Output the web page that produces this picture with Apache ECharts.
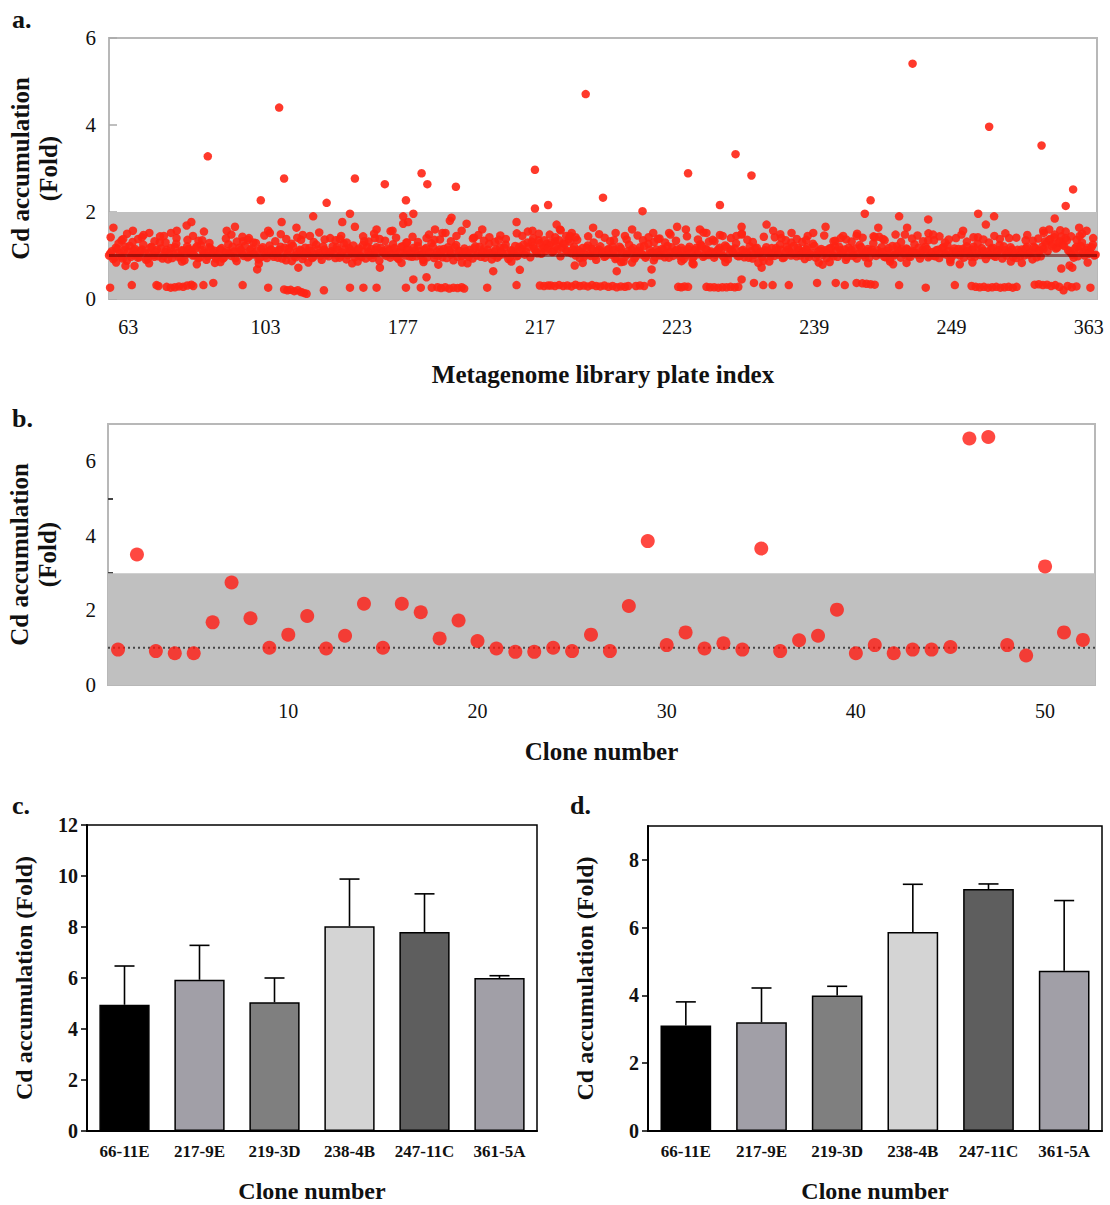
<!DOCTYPE html>
<html><head><meta charset="utf-8">
<script src="https://cdn.jsdelivr.net/npm/echarts@6/dist/echarts.min.js"></script>
<style>html,body{margin:0;padding:0;background:#fff}#c{width:1110px;height:1205px}</style>
</head><body><div id="c"></div>
<script>
const FONT = '"Liberation Serif","Times New Roman",serif';

// ---------- Panel a : plate screening ----------
const plateLabels = ['63','103','177','217','223','239','249','363'];
const plateCount = 36;
// main band: 10 readings per plate (plate order)
const aBand = [
1.05,0.92,1.18,1.28,0.98,1.12,0.88,1.22,1.02,1.15,
0.95,1.10,1.25,0.90,1.05,1.20,0.97,1.13,1.30,0.93,
1.08,0.91,1.17,1.03,1.27,0.96,1.12,0.89,1.21,1.06,
1.00,1.16,0.94,1.24,1.07,0.90,1.19,1.02,1.11,0.97,
1.14,0.93,1.06,1.26,0.99,1.09,0.87,1.18,1.04,1.22,
0.96,1.12,1.03,1.29,0.91,1.15,1.07,0.94,1.23,1.01,
1.10,0.95,1.20,1.05,0.89,1.16,1.27,0.98,1.08,1.13,
0.92,1.18,1.04,1.11,0.97,1.25,1.06,0.90,1.14,1.02,
1.07,1.21,0.94,1.13,1.00,1.28,0.91,1.17,1.05,0.96,
1.12,0.99,1.24,0.93,1.08,1.15,1.02,1.19,0.88,1.10,
1.03,1.16,0.95,1.26,1.09,0.92,1.20,1.05,1.13,0.98,
0.97,1.11,1.22,1.01,0.90,1.17,1.06,1.28,0.94,1.09,
1.14,0.96,1.07,1.19,1.02,0.89,1.24,1.11,0.99,1.16,
1.01,1.13,0.93,1.21,1.06,0.97,1.15,1.04,1.27,0.91,
1.09,0.95,1.18,1.03,1.25,0.92,1.12,1.07,0.98,1.20,
1.15,1.02,1.30,0.96,1.22,1.10,1.35,1.04,1.18,1.27,
1.24,1.08,1.33,1.15,0.98,1.28,1.12,1.38,1.05,1.20,
1.06,0.94,1.17,1.02,1.23,0.99,1.11,0.90,1.14,1.04,
0.97,1.12,1.05,1.20,0.92,1.09,1.16,0.86,1.03,1.25,
1.13,0.93,1.08,1.19,1.01,0.95,1.27,1.06,0.89,1.14,
1.02,1.15,0.96,1.22,1.08,0.99,1.11,1.04,1.18,0.92,
1.07,1.20,0.94,1.12,1.03,1.26,0.97,1.15,1.01,1.09,
0.95,1.10,1.18,1.00,1.23,0.91,1.14,1.06,1.28,0.98,
1.11,0.96,1.05,1.21,0.93,1.16,1.02,1.09,0.88,1.19,
1.04,1.17,0.99,1.12,1.25,0.94,1.07,1.14,1.00,1.22,
0.98,1.13,1.06,0.92,1.19,1.03,1.27,0.95,1.10,1.15,
1.08,0.94,1.16,1.02,1.21,0.97,1.12,1.05,0.90,1.18,
1.13,1.01,0.93,1.24,1.07,0.96,1.15,1.10,1.28,0.99,
1.05,1.19,0.97,1.11,0.91,1.22,1.03,1.14,0.95,1.08,
1.16,0.98,1.09,1.26,1.02,0.93,1.13,1.20,0.96,1.06,
1.00,1.12,0.94,1.17,1.05,1.23,0.90,1.10,1.03,1.15,
1.09,0.95,1.21,1.04,1.14,0.97,1.27,1.01,1.11,0.92,
1.03,1.16,0.99,1.08,1.24,0.93,1.12,1.06,1.19,0.96,
0.94,1.07,1.14,1.00,1.20,1.05,0.91,1.17,1.10,0.98,
1.15,1.28,1.36,1.22,1.42,1.18,1.33,1.25,1.40,1.12,
1.06,0.95,1.20,1.12,1.30,1.00,1.18,1.08,1.25,1.02
];
// band core: a further 10 readings per plate (plate order)
const aCore = [
1.00,1.10,0.95,1.15,1.05,0.93,1.20,1.08,0.97,1.12,
1.03,0.96,1.14,1.07,0.92,1.18,1.01,1.09,0.98,1.16,
0.99,1.13,1.04,0.94,1.19,1.06,0.97,1.11,1.02,1.15,
1.09,1.01,1.21,0.95,1.12,1.04,0.98,1.16,1.07,0.93,
1.02,1.17,0.96,1.10,1.05,1.20,0.94,1.08,1.13,0.99,
1.06,0.98,1.16,1.03,1.11,0.95,1.19,1.00,1.09,1.14,
0.97,1.05,1.13,0.93,1.18,1.02,1.09,1.22,0.96,1.04,
1.11,1.00,1.07,1.17,0.94,1.03,1.14,0.99,1.21,1.08,
0.98,1.10,1.03,1.19,0.95,1.07,1.15,1.01,1.12,1.23,
1.04,1.16,0.97,1.08,1.20,1.00,0.94,1.13,1.06,1.18,
1.09,0.99,1.12,1.02,1.17,0.95,1.07,1.21,1.00,1.14,
1.05,1.18,0.98,1.10,1.03,1.14,0.96,1.08,1.20,1.01,
0.99,1.08,1.15,0.94,1.12,1.05,1.19,0.97,1.10,1.03,
1.10,0.97,1.05,1.16,1.00,1.20,1.08,0.95,1.13,1.06,
1.02,1.14,0.99,1.08,1.18,1.04,0.96,1.11,1.22,1.00,
1.12,1.25,1.08,1.20,1.32,1.15,1.05,1.28,1.18,1.10,
1.16,1.30,1.10,1.22,1.35,1.18,1.26,1.08,1.32,1.14,
1.00,1.12,1.07,0.96,1.18,1.03,1.15,0.99,1.09,1.21,
1.07,0.99,1.15,1.02,1.12,0.95,1.20,1.06,0.97,1.10,
1.03,1.17,0.98,1.11,1.05,1.22,1.00,1.13,1.07,0.96,
1.08,1.00,1.13,1.04,0.95,1.19,1.06,1.14,0.98,1.11,
1.01,1.15,1.05,0.97,1.18,1.09,1.22,1.00,1.12,1.04,
1.06,1.02,1.14,1.08,0.96,1.19,1.03,1.11,1.16,0.99,
1.00,1.13,1.07,0.95,1.10,1.02,1.18,1.05,0.97,1.12,
1.10,0.98,1.06,1.17,1.02,1.13,0.96,1.20,1.08,1.04,
1.04,1.18,1.00,1.09,1.14,0.97,1.06,1.22,1.02,1.11,
1.01,1.12,1.05,1.17,0.98,1.09,1.20,1.03,1.14,0.96,
1.07,0.99,1.16,1.04,1.19,1.01,1.10,0.95,1.13,1.06,
1.12,1.03,1.08,0.96,1.17,1.05,1.00,1.21,1.09,1.14,
1.02,1.14,0.97,1.10,1.06,1.18,1.01,1.08,1.15,0.99,
1.08,0.98,1.13,1.05,1.19,1.02,1.10,0.96,1.16,1.07,
1.00,1.15,1.06,1.11,0.97,1.20,1.04,1.09,1.17,1.02,
1.09,1.01,1.18,0.97,1.12,1.05,1.21,1.00,1.08,1.14,
1.03,1.13,0.99,1.09,1.16,1.02,1.07,1.20,0.96,1.11,
1.20,1.32,1.10,1.38,1.25,1.16,1.30,1.44,1.22,1.35,
1.10,1.02,1.16,0.98,1.22,1.07,1.13,1.04,1.19,1.00
];
// band fringe: 5 readings per plate at the band edges (plate order)
const aFringe = [
1.42,0.84,1.35,1.50,1.31, 1.38,1.47,0.82,1.33,1.44, 1.30,1.52,1.40,0.86,1.36, 1.45,1.34,1.55,1.29,0.83,
0.85,1.39,1.48,1.32,1.43, 1.36,1.30,0.81,1.46,1.52, 1.33,1.49,1.38,0.87,1.41, 1.47,0.84,1.31,1.53,1.37,
1.40,1.35,1.45,1.30,0.82, 0.86,1.44,1.32,1.50,1.38, 1.34,1.56,1.41,0.83,1.30, 1.43,1.31,0.85,1.48,1.36,
1.37,1.52,1.33,1.45,0.84, 0.82,1.39,1.47,1.34,1.42, 1.31,1.46,1.38,0.86,1.51, 1.45,1.55,1.40,1.50,1.35,
1.48,1.42,1.58,1.45,1.52, 1.36,0.83,1.44,1.30,1.49, 1.41,1.33,1.52,0.85,1.37, 0.84,1.46,1.35,1.42,1.31,
1.39,1.30,1.48,1.34,0.87, 1.44,0.82,1.37,1.53,1.32, 1.33,1.47,0.85,1.40,1.45, 1.50,1.36,1.31,0.83,1.43,
0.86,1.42,1.49,1.35,1.30, 1.38,1.31,1.45,1.52,0.84, 1.46,0.85,1.34,1.40,1.37, 1.32,1.50,1.41,0.82,1.44,
1.43,1.35,0.86,1.48,1.31, 0.83,1.39,1.46,1.33,1.51, 1.35,1.44,1.30,0.85,1.40, 1.48,1.32,0.84,1.42,1.37,
1.30,1.45,1.38,1.51,0.86, 1.41,0.83,1.47,1.34,1.39, 1.52,1.60,1.48,1.58,1.55, 1.44,1.36,1.50,0.84,1.40
];
// readings outside the main band: [plate position, fold]
const aSpread = [
[0.16,1.64],[0.52,1.38],[0.87,1.57],[1.2,1.42],[1.47,1.52],[2.0,1.45],[2.47,1.57],[2.83,1.69],[3.0,1.77],[3.4,1.35],
[3.6,3.28],[4.29,1.57],[4.59,1.66],[4.89,1.33],[5.1,1.4],[5.53,2.27],[5.8,1.57],[6.2,4.40],[6.29,1.77],[6.38,2.77],
[6.83,1.64],[7.0,1.36],[7.32,1.45],[7.44,1.9],[7.93,2.21],[8.41,1.38],[8.5,1.77],[8.78,1.96],[8.96,2.77],[8.96,1.66],
[9.3,1.33],[9.69,1.4],[9.75,1.6],[10.05,2.64],[10.33,1.57],[10.72,1.9],[10.72,1.73],[10.82,2.27],[10.84,1.3],[10.9,1.77],
[11.09,1.96],[11.39,2.89],[11.57,1.4],[11.6,2.64],[11.88,1.6],[12.15,1.52],[12.42,1.80],[12.48,1.87],[12.64,2.58],[12.85,1.57],
[13.03,1.73],[13.3,1.41],[13.6,1.6],[14.2,1.36],[14.85,1.77],[15.43,1.57],[15.52,2.97],[15.52,2.08],[16.0,2.16],[16.31,1.71],
[16.43,1.6],[16.8,1.45],[17.0,1.42],[17.37,4.71],[17.64,1.64],[18.0,2.33],[18.4,1.35],[18.8,1.45],[19.06,1.6],[19.44,2.02],
[19.83,1.52],[20.0,1.38],[20.41,1.52],[20.7,1.66],[21.02,1.6],[21.1,2.89],[21.53,1.6],[21.77,1.52],[22.0,1.36],[22.26,2.16],
[22.36,1.45],[22.83,3.33],[23.05,1.66],[23.05,1.48],[23.41,2.84],[23.96,1.71],[24.2,1.57],[24.5,1.4],[24.87,1.52],[25.4,1.36],
[26.11,1.66],[26.4,1.33],[26.75,1.45],[27.24,1.45],[27.54,1.96],[27.75,2.27],[27.9,1.42],[28.03,1.64],[28.2,1.38],[28.79,1.9],
[29.0,1.48],[29.08,1.64],[29.28,5.41],[29.85,1.83],[29.85,1.35],[30.03,1.48],[30.6,1.37],[31.12,1.57],[31.5,1.42],[31.67,1.96],
[31.95,1.71],[32.07,3.96],[32.25,1.9],[32.8,1.4],[33.4,1.35],[33.98,3.53],[34.04,1.57],[34.46,1.85],[34.86,2.14],[35.13,2.52],
[35.35,1.64],[35.37,1.45],[35.62,1.57],
[0.6,0.76],[0.93,0.76],[3.2,0.8],[5.4,0.68],[6.9,0.72],[9.87,0.72],[12.0,0.79],[14.0,0.64],[14.97,0.67],[16.97,0.77],
[18.5,0.64],[19.77,0.68],[21.3,0.8],[23.78,0.72],[26.0,0.79],[28.57,0.8],[31.0,0.8],[34.7,0.7],[35.0,0.77],[35.1,0.72]
];
// low-accumulation cluster: [plate position, fold]
const aLow = [
[0.04,0.26],[0.83,0.32],[1.73,0.32],[1.8,0.3],[2.1,0.28],[2.25,0.26],[2.4,0.27],[2.55,0.29],[2.7,0.28],[2.85,0.31],
[3.0,0.33],[3.07,0.3],[3.44,0.32],[3.8,0.37],[4.87,0.32],[5.8,0.26],[6.38,0.22],[6.5,0.2],[6.62,0.21],[6.75,0.18],
[6.88,0.2],[7.0,0.16],[7.1,0.14],[7.2,0.12],[7.83,0.2],[8.78,0.26],[9.27,0.26],[9.75,0.26],[10.82,0.26],[11.09,0.45],
[11.57,0.5],[11.36,0.26],[11.76,0.26],[11.97,0.27],[12.1,0.25],[12.25,0.27],[12.4,0.24],[12.55,0.26],[12.7,0.25],[12.85,0.27],
[12.94,0.24],[13.78,0.26],[14.85,0.32],[15.7,0.31],[15.85,0.3],[16.0,0.31],[16.1,0.31],[16.25,0.3],[16.4,0.32],[16.55,0.3],
[16.7,0.31],[16.85,0.29],[17.0,0.33],[17.15,0.3],[17.3,0.31],[17.45,0.29],[17.6,0.32],[17.75,0.3],[17.9,0.29],[18.05,0.31],
[18.2,0.28],[18.35,0.3],[18.5,0.27],[18.65,0.29],[18.8,0.28],[18.92,0.3],[19.2,0.3],[19.35,0.31],[19.5,0.3],[19.77,0.37],
[20.74,0.28],[20.85,0.27],[20.97,0.29],[21.1,0.28],[21.77,0.28],[21.9,0.27],[22.05,0.27],[22.2,0.26],[22.35,0.27],[22.5,0.27],
[22.65,0.28],[22.8,0.27],[22.93,0.28],[23.05,0.45],[23.5,0.37],[23.84,0.32],[24.18,0.32],[24.77,0.32],[25.8,0.37],[26.48,0.37],
[26.81,0.32],[27.24,0.37],[27.45,0.36],[27.6,0.35],[27.75,0.34],[27.9,0.33],[28.79,0.32],[29.76,0.26],[30.82,0.32],[31.43,0.3],
[31.58,0.28],[31.73,0.27],[31.88,0.28],[32.03,0.26],[32.18,0.27],[32.33,0.28],[32.48,0.26],[32.63,0.27],[32.78,0.28],[32.93,0.26],
[33.07,0.28],[33.73,0.33],[33.88,0.34],[34.03,0.32],[34.18,0.33],[34.33,0.3],[34.48,0.32],[34.63,0.28],[34.78,0.2],[34.93,0.3],
[35.08,0.27],[35.25,0.29],[35.76,0.26]
];

// ---------- Panel b : 52 selected clones ----------
const bValues = [
0.95,3.50,0.91,0.85,0.85,1.68,2.75,1.79,1.00,1.35,1.85,0.98,1.32,2.18,1.00,2.18,1.95,1.25,1.73,1.18,0.98,0.89,0.89,1.00,
0.91,1.35,0.91,2.12,3.86,1.07,1.41,0.98,1.12,0.95,3.66,0.91,1.20,1.32,2.02,0.85,1.07,0.85,0.95,0.95,1.02,6.61,6.65,1.07,
0.79,3.18,1.41,1.21
];
const bLabelClones = [10,20,30,40,50];

// ---------- Panels c, d : six clones ----------
const clones = ['66-11E','217-9E','219-3D','238-4B','247-11C','361-5A'];
const cMean = [4.95,5.93,5.05,8.03,7.80,6.00];
const cErr  = [1.52,1.35,0.95,1.85,1.50,0.09];
const dMean = [3.11,3.21,4.00,5.87,7.14,4.73];
const dErr  = [0.70,1.01,0.27,1.41,0.15,2.07];
const barColors = ['#000000','#a19fa7','#7f7f7f','#d4d4d4','#5e5e5e','#a19fa7'];

// ---------- build ----------
const RED = '#ff2414';
const bandPts = aBand.map((v,i)=>[Math.floor(i/10) + ((i%10)+0.5)/10, v]);
const corePts = aCore.map((v,i)=>[Math.floor(i/10) + ((i%10)+0.02)/10, v]);
const fringePts = aFringe.map((v,i)=>[Math.floor(i/5) + ((i%5)+0.3)/5, v]);
const plateTicks = Array.from({length: plateCount-1}, (_,i)=>i+1);
const plateLabelPos = plateLabels.map((_,i)=>i*5+0.7);
const bPts = bValues.map((v,i)=>[i+1, v]);
const bTicks = bValues.map((_,i)=>i+1);

const txt = {fontFamily: FONT, color:'#111'};
const nameStyle = {fontFamily: FONT, color:'#111', fontWeight:'bold', fontSize:25, lineHeight:28};

function errSeries(idx, mean, err){
  return {
    type:'custom', xAxisIndex:idx, yAxisIndex:idx, z:5,
    data: mean.map((m,i)=>[i, m, err[i]]),
    renderItem: function(params, api){
      const x = api.value(0), m = api.value(1), e = api.value(2);
      const p0 = api.coord([x, m]), p1 = api.coord([x, m+e]);
      const hw = 10;
      return {type:'group', children:[
        {type:'line', shape:{x1:p0[0], y1:p0[1], x2:p1[0], y2:p1[1]}, style:{stroke:'#000', lineWidth:1.6}},
        {type:'line', shape:{x1:p1[0]-hw, y1:p1[1], x2:p1[0]+hw, y2:p1[1]}, style:{stroke:'#000', lineWidth:1.6}}
      ]};
    }
  };
}
function barSeries(idx, mean){
  return {
    type:'bar', xAxisIndex:idx, yAxisIndex:idx, barWidth:'67%', z:3,
    data: mean.map((m,i)=>({value:m, itemStyle:{color:barColors[i]}})),
    itemStyle:{borderColor:'#000', borderWidth:1.5}
  };
}
function catX(idx){
  return {gridIndex:idx, type:'category', data:clones,
    axisLine:{lineStyle:{color:'#000', width:2}},
    axisTick:{alignWithLabel:true, length:6, lineStyle:{color:'#000', width:1.5}},
    axisLabel:Object.assign({fontSize:17, fontWeight:'bold', margin:12, interval:0, hideOverlap:false}, txt),
    name:'Clone number', nameLocation:'middle', nameGap:48, nameTextStyle:Object.assign({}, nameStyle, {fontSize:24, lineHeight:24})};
}
function valY(idx, max, labels){
  return {gridIndex:idx, type:'value', min:0, max:max,
    axisLine:{show:true, lineStyle:{color:'#000', width:2}},
    axisTick:{show:true, length:6, lineStyle:{color:'#000', width:1.5}, customValues:labels},
    axisLabel:Object.assign({fontSize:20, fontWeight:'bold', margin:9, customValues:labels}, txt),
    splitLine:{show:false},
    name:'Cd accumulation (Fold)', nameLocation:'middle', nameGap:51, nameTextStyle:Object.assign({}, nameStyle, {fontSize:24, lineHeight:24})};
}
function aScatter(data){
  return {type:'scatter', xAxisIndex:0, yAxisIndex:0, data:data, symbolSize:8.5, z:3, itemStyle:{color:RED, opacity:0.9}};
}

const option = {
  animation:false,
  backgroundColor:'#fff',
  grid:[
    {left:109, top:38, width:988, height:261, show:true, borderColor:'#b8b8b8', borderWidth:2, backgroundColor:'transparent', outerBoundsMode:'none'},
    {left:108, top:424, width:987, height:261, show:true, borderColor:'#b8b8b8', borderWidth:2, outerBoundsMode:'none'},
    {left:87, top:825, width:450, height:306, show:true, borderColor:'#000', borderWidth:1.5, outerBoundsMode:'none'},
    {left:648, top:826, width:454, height:305, show:true, borderColor:'#000', borderWidth:1.5, outerBoundsMode:'none'}
  ],
  xAxis:[
    {gridIndex:0, type:'value', min:0, max:plateCount,
      axisLine:{show:false}, splitLine:{show:false},
      axisTick:{show:true, inside:true, length:6, lineStyle:{color:'#777', width:1.5}, customValues:plateTicks},
      axisLabel:Object.assign({fontSize:20, margin:18, customValues:plateLabelPos,
        formatter:function(v){ return plateLabels[Math.round((v-0.7)/5)]; }}, txt),
      name:'Metagenome library plate index', nameLocation:'middle', nameGap:61, nameTextStyle:nameStyle},
    {gridIndex:1, type:'value', min:0.47, max:52.64,
      axisLine:{show:false}, splitLine:{show:false},
      axisTick:{show:true, inside:true, length:5, lineStyle:{color:'#555', width:3}, customValues:bTicks},
      axisLabel:Object.assign({fontSize:20, margin:16, customValues:bLabelClones}, txt),
      name:'Clone number', nameLocation:'middle', nameGap:52, nameTextStyle:nameStyle},
    catX(2), catX(3)
  ],
  yAxis:[
    {gridIndex:0, type:'value', min:0, max:6, interval:2,
      axisLine:{show:false}, splitLine:{show:false},
      axisTick:{show:true, inside:true, length:8, lineStyle:{color:'#aaa', width:1.5}},
      axisLabel:Object.assign({fontSize:21, margin:13}, txt),
      name:'Cd accumulation\n(Fold)', nameLocation:'middle', nameGap:47, nameTextStyle:nameStyle},
    {gridIndex:1, type:'value', min:0, max:7,
      axisLine:{show:false}, splitLine:{show:false},
      axisTick:{show:true, inside:true, length:5, lineStyle:{color:'#444', width:2}, customValues:[3,5]},
      axisLabel:Object.assign({fontSize:21, margin:12, customValues:[0,2,4,6]}, txt),
      name:'Cd accumulation\n(Fold)', nameLocation:'middle', nameGap:47, nameTextStyle:nameStyle},
    valY(2, 12, [0,2,4,6,8,10,12]),
    valY(3, 9, [0,2,4,6,8])
  ],
  graphic:[
    {type:'text', left:12, top:6, style:{text:'a.', font:'bold 26px '+FONT, fill:'#111'}},
    {type:'text', left:12, top:405, style:{text:'b.', font:'bold 26px '+FONT, fill:'#111'}},
    {type:'text', left:12, top:792, style:{text:'c.', font:'bold 26px '+FONT, fill:'#111'}},
    {type:'text', left:570, top:792, style:{text:'d.', font:'bold 26px '+FONT, fill:'#111'}}
  ],
  series:[
    // panel a
    {type:'line', xAxisIndex:0, yAxisIndex:0, data:[], z:1, silent:true,
      markArea:{silent:true, itemStyle:{color:'#c0c0c0'}, data:[[{yAxis:0},{yAxis:2}]]}},
    aScatter(bandPts), aScatter(corePts), aScatter(fringePts), aScatter(aSpread), aScatter(aLow),
    {type:'line', xAxisIndex:0, yAxisIndex:0, data:[[0,1],[plateCount,1]], z:4, symbol:'none', silent:true,
      lineStyle:{color:'rgba(90,0,0,0.55)', width:3}},
    // panel b
    {type:'line', xAxisIndex:1, yAxisIndex:1, data:[], z:1, silent:true,
      markArea:{silent:true, itemStyle:{color:'#c0c0c0'}, data:[[{yAxis:0},{yAxis:3}]]}},
    {type:'line', xAxisIndex:1, yAxisIndex:1, data:[[0.47,1],[52.64,1]], z:2, symbol:'none', silent:true,
      lineStyle:{color:'#444', width:2, type:[2,3]}},
    {type:'scatter', xAxisIndex:1, yAxisIndex:1, data:bPts, symbolSize:14, z:3, itemStyle:{color:'#ff1a12'}},
    // panel c
    barSeries(2, cMean), errSeries(2, cMean, cErr),
    // panel d
    barSeries(3, dMean), errSeries(3, dMean, dErr)
  ]
};
const chart = echarts.init(document.getElementById('c'), null, {renderer:'svg'});
chart.setOption(option);
</script>
</body></html>
